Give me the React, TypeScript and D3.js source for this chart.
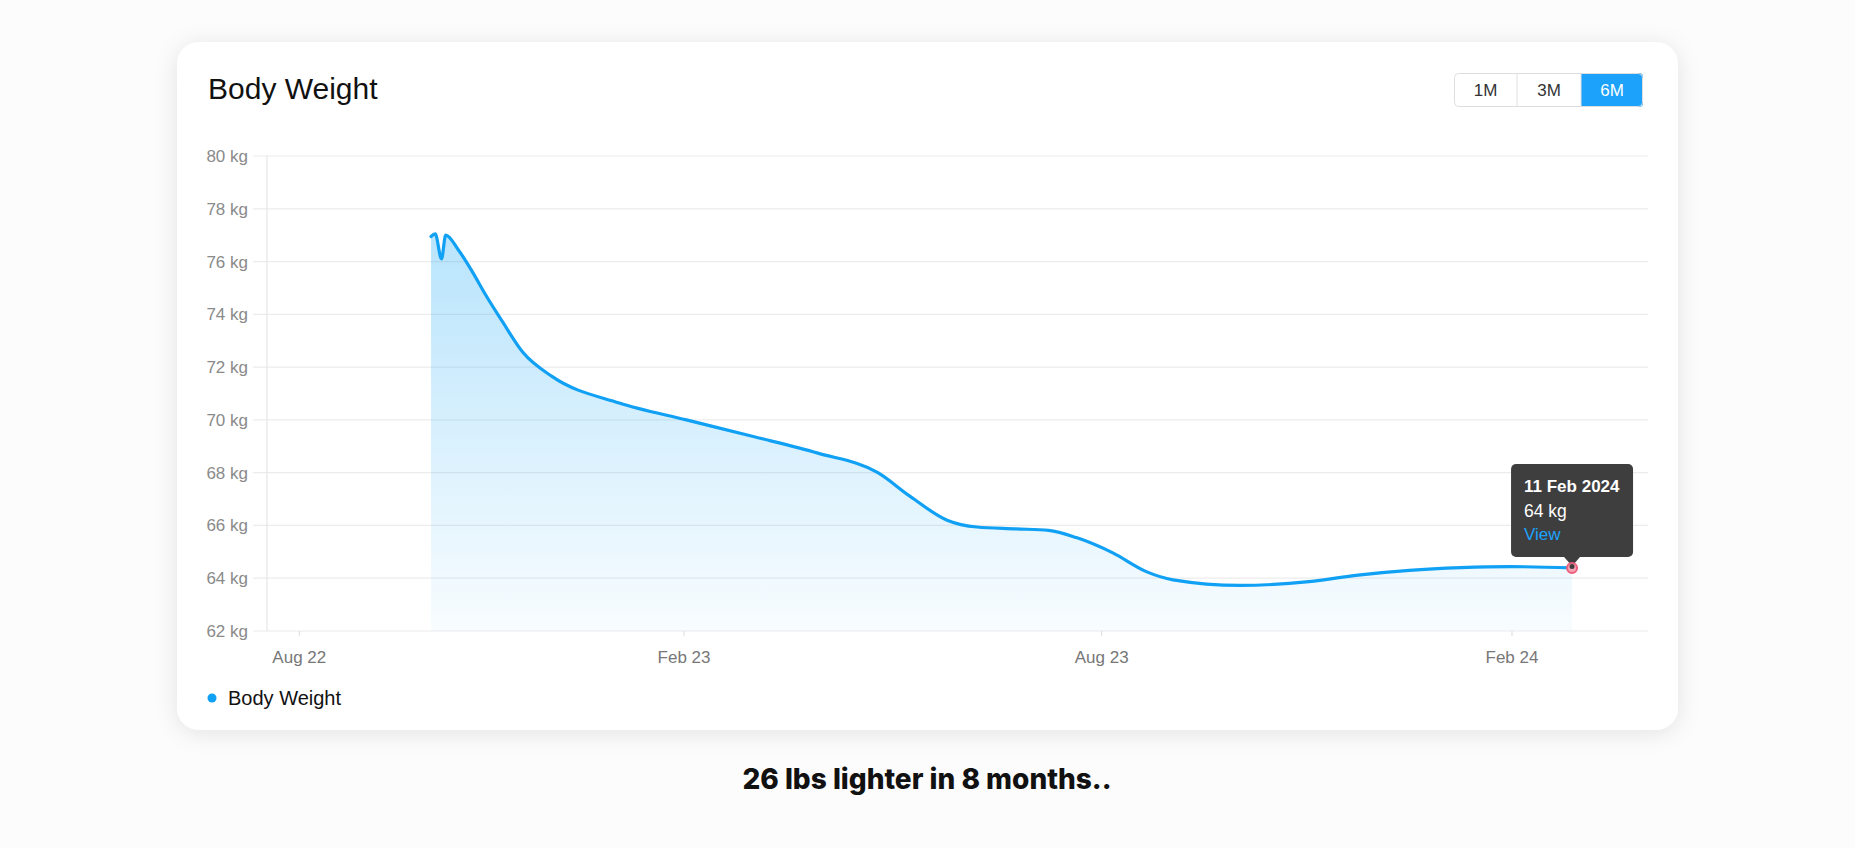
import * as d3 from 'd3';

// ---- data ----
const WEIGHT_DATES = [
  '2022-10-03', '2022-10-05', '2022-10-08', '2022-10-10', '2022-10-16', '2022-10-23',
  '2022-10-29', '2022-11-06', '2022-11-16', '2022-11-30', '2023-01-01', '2023-02-02',
  '2023-03-03', '2023-03-31', '2023-04-26', '2023-05-10', '2023-05-26', '2023-06-08',
  '2023-06-25', '2023-07-09', '2023-07-21', '2023-08-06', '2023-08-21', '2023-09-02',
  '2023-10-02', '2023-11-02', '2023-11-24', '2023-12-17', '2024-01-09', '2024-01-31',
  '2024-02-11',
];
const WEIGHT_KG = [
  76.95, 77.05, 76.1, 77.0, 76.45, 75.58,
  74.75, 73.74, 72.55, 71.64, 70.64, 70.0,
  69.37, 68.74, 68.0, 67.1, 66.2, 65.94,
  65.87, 65.81, 65.54, 64.96, 64.25, 63.94,
  63.73, 63.87, 64.12, 64.3, 64.4, 64.44,
  64.39,
];
const Y_TICKS = [62, 64, 66, 68, 70, 72, 74, 76, 78, 80];
const X_TICKS = ['2022-08-01', '2023-02-01', '2023-08-01', '2024-02-01'];
const X_TICK_LABELS = ['Aug 22', 'Feb 23', 'Aug 23', 'Feb 24'];
// the axis is not evenly spaced in time (category-like), so the time scale is piecewise
const X_BREAKS = ['2022-07-16', '2022-08-01', '2023-02-01', '2023-08-01', '2024-02-01', '2024-02-11', '2024-03-16'];
const X_BREAK_FRAC = [0, 0.0234, 0.302, 0.6044, 0.9015, 0.945, 1];
const RANGES = ['1M', '3M', '6M'];
const ACTIVE_RANGE = '6M';
const TOOLTIP_DATE = '11 Feb 2024';
const TOOLTIP_VALUE = '64 kg';

const W = 1855;
const H = 848;
const BLUE = '#10a0f4';
const FONT = '"Liberation Sans", Arial, Helvetica, sans-serif';

const parse = d3.timeParse('%Y-%m-%d');
const points = WEIGHT_DATES.map((d, i) => ({ date: parse(d) as Date, kg: WEIGHT_KG[i] }));

export default function App() {
  const card = { x: 177, y: 42, w: 1501, h: 688 };
  const margin = { left: 267, right: 1648, top: 156, bottom: 631 };
  const plotW = margin.right - margin.left;

  const x = d3.scaleTime()
    .domain(X_BREAKS.map(d => parse(d) as Date))
    .range(X_BREAK_FRAC.map(f => margin.left + f * plotW));
  const y = d3.scaleLinear().domain([62, 80]).range([margin.bottom, margin.top]);

  const line = d3.line<{ date: Date; kg: number }>()
    .x(d => x(d.date))
    .y(d => y(d.kg))
    .curve(d3.curveMonotoneX);
  const area = d3.area<{ date: Date; kg: number }>()
    .x(d => x(d.date))
    .y0(y(62))
    .y1(d => y(d.kg))
    .curve(d3.curveMonotoneX);

  const last = points[points.length - 1];
  const px = x(last.date);
  const py = y(last.kg);
  const tipW = 122;
  const tipH = 93;
  const tipX = px - tipW / 2;
  const tipY = py - 11 - tipH;

  const btnW = [63, 64, 62];
  const btnX0 = 1454;
  const btnY = 73;
  const btnH = 34;
  const btnTotal = d3.sum(btnW);

  return (
    <svg width={W} height={H} style={{ position: 'absolute', left: 0, top: 0, background: '#fcfcfc' }}>
      <defs>
        <filter id="cardShadow" x="-5%" y="-8%" width="110%" height="120%">
          <feDropShadow dx="0" dy="3" stdDeviation="11" floodColor="#000" floodOpacity="0.1" />
        </filter>
        <linearGradient id="areaFill" x1="0" y1="0" x2="0" y2="1">
          <stop offset="0%" stopColor="#14a5f5" stopOpacity={0.3} />
          <stop offset="100%" stopColor="#14a5f5" stopOpacity={0.03} />
        </linearGradient>
        <clipPath id="btnClip">
          <rect x={btnX0} y={btnY} width={btnTotal} height={btnH} rx={4} />
        </clipPath>
      </defs>

      <rect x={card.x} y={card.y} width={card.w} height={card.h} rx={22} fill="#fff" filter="url(#cardShadow)" />

      <text x={208} y={99} fontFamily={FONT} fontSize={30} fill="#111">Body Weight</text>

      {/* range buttons */}
      <g clipPath="url(#btnClip)">
        {RANGES.map((r, i) => {
          const bx = btnX0 + d3.sum(btnW.slice(0, i));
          const active = r === ACTIVE_RANGE;
          return (
            <g key={r}>
              <rect x={bx} y={btnY} width={btnW[i]} height={btnH} fill={active ? '#1ca2fb' : '#fff'} />
              {i > 0 && <line x1={bx} x2={bx} y1={btnY} y2={btnY + btnH} stroke="#e0e0e0" />}
              <text x={bx + btnW[i] / 2} y={btnY + 23} textAnchor="middle" fontFamily={FONT} fontSize={17}
                fill={active ? '#fff' : '#333'}>{r}</text>
            </g>
          );
        })}
      </g>
      <rect x={btnX0 + 0.5} y={btnY + 0.5} width={btnTotal - 1} height={btnH - 1} rx={4} fill="none" stroke="#dedede" />

      {/* grid + y axis */}
      {Y_TICKS.map(t => (
        <g key={t}>
          <line x1={253} x2={margin.right} y1={y(t)} y2={y(t)} stroke="#ececec" strokeWidth={1.2} />
          <text x={248} y={y(t)} dy="0.35em" textAnchor="end" fontFamily={FONT} fontSize={17} fill="#8a8a8a">{t} kg</text>
        </g>
      ))}
      <line x1={margin.left} x2={margin.left} y1={margin.top} y2={margin.bottom} stroke="#e6e6e6" strokeWidth={1.2} />

      {/* x axis */}
      {X_TICKS.map((t, i) => {
        const tx = x(parse(t) as Date);
        return (
          <g key={t}>
            <line x1={tx} x2={tx} y1={margin.bottom} y2={margin.bottom + 5} stroke="#dcdcdc" />
            <text x={tx} y={663} textAnchor="middle" fontFamily={FONT} fontSize={17} fill="#777">{X_TICK_LABELS[i]}</text>
          </g>
        );
      })}

      <path d={area(points) || ''} fill="url(#areaFill)" />
      <path d={line(points) || ''} fill="none" stroke={BLUE} strokeWidth={3.2} strokeLinejoin="round" strokeLinecap="round" />

      {/* tooltip */}
      <g>
        <rect x={tipX} y={tipY} width={tipW} height={tipH} rx={5} fill="#3e3e3e" />
        <path d={`M${px - 8},${tipY + tipH} L${px + 8},${tipY + tipH} L${px},${tipY + tipH + 9} Z`} fill="#3e3e3e" />
        <text x={tipX + 13} y={tipY + 28} fontFamily={FONT} fontSize={17} fontWeight="bold" fill="#fff">{TOOLTIP_DATE}</text>
        <text x={tipX + 13} y={tipY + 53} fontFamily={FONT} fontSize={17.5} fill="#fff">{TOOLTIP_VALUE}</text>
        <text x={tipX + 13} y={tipY + 76} fontFamily={FONT} fontSize={17} fill="#1ca2fb">View</text>
      </g>
      <circle cx={px} cy={py} r={5} fill="#f5a3b3" stroke="#ec5f7c" strokeWidth={2} />
      <circle cx={px} cy={py - 1.5} r={2.5} fill="#3e3e3e" />

      {/* legend */}
      <circle cx={212} cy={698} r={4.5} fill={BLUE} />
      <text x={228} y={698} dy="0.35em" fontFamily={FONT} fontSize={20} fill="#111">Body Weight</text>

      <text x={927} y={789} textAnchor="middle" fontFamily="Inter, 'Noto Sans', sans-serif" fontWeight={800} fontSize={28} fill="#111">
        26 lbs lighter in 8 months..
      </text>
    </svg>
  );
}
